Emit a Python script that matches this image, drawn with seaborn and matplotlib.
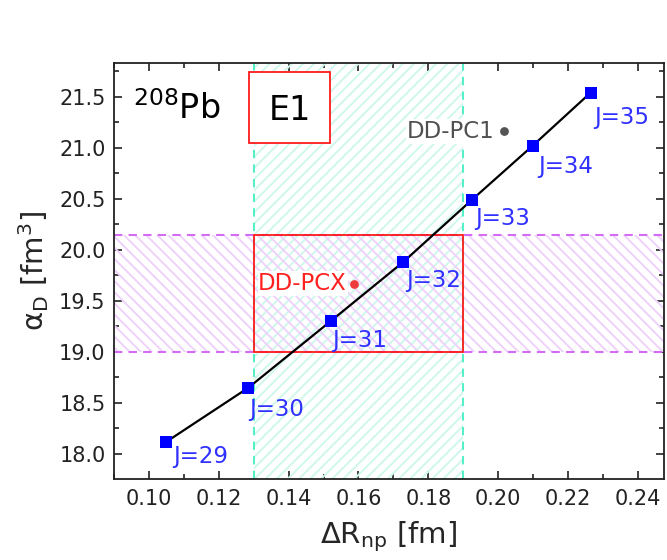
import matplotlib
matplotlib.use("Agg")
import matplotlib.pyplot as plt
import seaborn as sns
import pandas as pd
from matplotlib.patches import Rectangle
from matplotlib.ticker import MultipleLocator

# ---- data ----
delta_r = [0.105, 0.1285, 0.152, 0.1728, 0.1925, 0.2099, 0.2265]
alpha_d = [18.12, 18.65, 19.30, 19.88, 20.49, 21.02, 21.54]
j_labels = ["J=29", "J=30", "J=31", "J=32", "J=33", "J=34", "J=35"]

pc1_x, pc1_y = [0.2018], [21.16]
pcx_x, pcx_y = [0.1587], [19.67]

band_x = [0.13, 0.19]      # Delta R_np constraint
band_y = [19.0, 20.15]     # alpha_D constraint

xticks = [0.10, 0.12, 0.14, 0.16, 0.18, 0.20, 0.22, 0.24]
yticks = [18.0, 18.5, 19.0, 19.5, 20.0, 20.5, 21.0, 21.5]

# label offsets (points) for the J annotations
lab_dx = [5, 0.5, 1, 2.5, 2.5, 4, 2.5]
lab_dy = [-2.5, -7.5, -5.5, -5, -5, -7, -9.5]

df = pd.DataFrame({"dr": delta_r, "alpha": alpha_d, "J": j_labels})

sns.set_style("ticks")
plt.rcParams["font.family"] = ["DejaVu Sans"]
plt.rcParams["mathtext.fontset"] = "dejavusans"
plt.rcParams["hatch.linewidth"] = 1.4

fig = plt.figure(figsize=(6.67, 5.6), dpi=100)
ax = fig.add_axes([0.1709, 0.1446, 0.8246, 0.7429])

xlim = (0.09, 0.2475)
ylim = (17.755, 21.83)
ax.set_xlim(*xlim)
ax.set_ylim(*ylim)

# bands
ax.axvspan(band_x[0], band_x[1], facecolor="none", edgecolor="#cff8ed",
           hatch="///", linewidth=0, zorder=1)
ax.axhspan(band_y[0], band_y[1], facecolor="none", edgecolor="#efd2fb",
           hatch="\\\\\\", linewidth=0, zorder=1)
for xv in band_x:
    ax.axvline(xv, color="#55f0c8", linestyle=(0, (4, 3)), linewidth=1.5, zorder=2)
for yv in band_y:
    ax.axhline(yv, color="#d36cf2", linestyle=(0, (4, 3)), linewidth=1.5, zorder=2)
ax.add_patch(Rectangle((band_x[0], band_y[0]), band_x[1] - band_x[0],
                       band_y[1] - band_y[0], fill=False, edgecolor="#ff1a1a",
                       linewidth=1.3, zorder=3))

# line + markers
sns.lineplot(data=df, x="dr", y="alpha", color="black", linewidth=1.6,
             ax=ax, zorder=4, sort=False)
sns.scatterplot(data=df, x="dr", y="alpha", marker="s", s=70, color="#0000ff",
                edgecolor="#0000ff", linewidth=0, ax=ax, zorder=5)

for x, y, t, dx, dy in zip(delta_r, alpha_d, j_labels, lab_dx, lab_dy):
    ax.annotate(t, (x, y), xytext=(dx, dy), textcoords="offset points",
                ha="left", va="top", fontsize=16.5, color="#3030ff", zorder=6)

# reference points
sns.scatterplot(x=pc1_x, y=pc1_y, color="#555555", s=40, linewidth=0, ax=ax, zorder=6)
sns.scatterplot(x=pcx_x, y=pcx_y, color="#ee3b3b", s=40, linewidth=0, ax=ax, zorder=6)
ax.annotate("DD-PC1", (pc1_x[0], pc1_y[0]), xytext=(-7, 0), textcoords="offset points",
            ha="right", va="center", fontsize=16.5, color="#505050", zorder=6,
            bbox=dict(facecolor="white", edgecolor="none", pad=0.5))
ax.annotate("DD-PCX", (pcx_x[0], pcx_y[0]), xytext=(-5, 0), textcoords="offset points",
            ha="right", va="center", fontsize=16.5, color="#ff2020", zorder=6,
            bbox=dict(facecolor="white", edgecolor="none", pad=0.5))

# annotations
ax.text(0.035, 0.89, "$^{208}$Pb", transform=ax.transAxes, fontsize=24,
        ha="left", va="center", color="black")
ax.add_patch(Rectangle((0.245, 0.808), 0.148, 0.17, transform=ax.transAxes,
                       facecolor="white", edgecolor="#ff1a1a", linewidth=1.3, zorder=7))
ax.text(0.319, 0.886, "E1", transform=ax.transAxes, fontsize=24,
        ha="center", va="center", color="black", zorder=8)

# axes styling
ax.set_xticks(xticks)
ax.set_yticks(yticks)
ax.set_xticklabels([f"{v:.2f}" for v in xticks])
ax.set_yticklabels([f"{v:.1f}" for v in yticks])
ax.xaxis.set_minor_locator(MultipleLocator(0.01))
ax.yaxis.set_minor_locator(MultipleLocator(0.25))
ax.tick_params(which="both", direction="in", top=True, right=True, color="#222222",
               width=1.2, labelsize=15, labelcolor="#222222", pad=6)
ax.tick_params(axis="x", pad=7)
ax.tick_params(which="major", length=6)
ax.tick_params(which="minor", length=3.5)
for s in ax.spines.values():
    s.set_linewidth(1.3)
    s.set_color("#222222")

ax.set_xlabel("ΔR$_{\\mathrm{np}}$ [fm]", fontsize=21, labelpad=8)
ax.set_ylabel("α$_{\\mathrm{D}}$ [fm$^{3}$]", fontsize=21, labelpad=6)

fig.savefig("out.png", dpi=100)
